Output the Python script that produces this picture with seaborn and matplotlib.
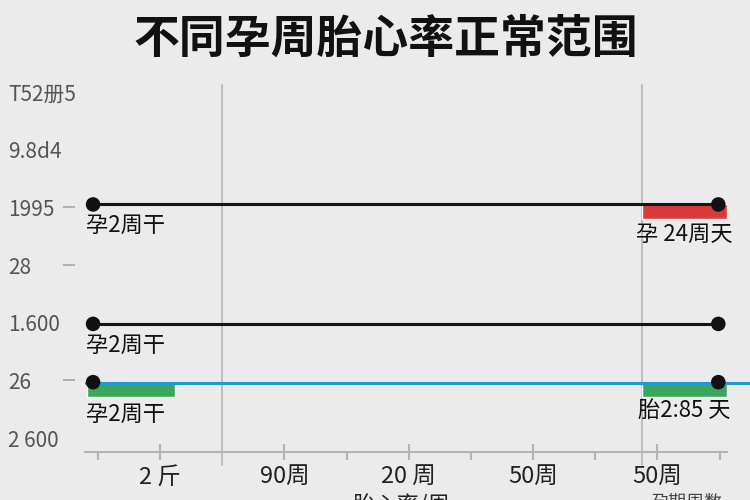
import numpy as np
import pandas as pd
import matplotlib.pyplot as plt
import seaborn as sns

# tick positions / labels (gestational week on x, heart rate on y)
x_ticks = [0, 10, 20, 30, 40]
x_tick_labels = ["2 斤", "90周", "20 周", "50周", "50周"]
x_minor = [-5, 15, 25, 35, 45]
y_ticks = [180, 170, 160, 150, 140, 130, 120]
y_tick_labels = ["T52册5", "9.8d4", "1995", "28", "1.600", "26", "2 600"]

# range lines: start week, end week, heart rate
line_start = [-5.4, -5.4, -6.0]
line_end = [44.9, 45.1, 47.5]
line_rate = [160.5, 139.8, 129.5]
line_color = ["#151515", "#151515", "#1e9ad6"]
dot_rate = [160.5, 139.8, 129.7]

# highlight bars: left week, right week, heart rate (center)
bar_left = [38.8, -5.9, 38.8]
bar_right = [45.6, 1.2, 45.6]
bar_rate = [159.3, 128.3, 128.3]
bar_color = ["#d93a3c", "#3ba55c", "#3ba55c"]

left_labels = ["孕2周干", "孕2周干", "孕2周干"]
left_offset = [-7, -7, -15]
right_labels = ["孕 24周天", "", "胎2:85 天"]
v_lines = [5, 38.8]

sns.set_theme(style="white")
plt.rcParams['font.family'] = ['Noto Sans CJK SC', 'DejaVu Sans']
bg = "#ebebeb"

fig = plt.figure(figsize=(7.5, 5), dpi=100, facecolor=bg)
ax = fig.add_axes([85 / 750, 48 / 500, (727 - 85) / 750, (452 - 85) / 500])
ax.set_facecolor(bg)
ax.set_xlim(-6.05, 45.6)
ax.set_ylim(117.6, 181.2)

for x in v_lines:
    ax.axvline(x, ymin=-0.035, ymax=1, color="#b4b4b4", lw=1.2, clip_on=False, zorder=1)

for l, r, y, c in zip(bar_left, bar_right, bar_rate, bar_color):
    ax.barh(y, r - l, left=l, height=2.5, color=c, zorder=2)

for s, e, y, c in zip(line_start, line_end, line_rate, line_color):
    df = pd.DataFrame({"week": [s, e], "rate": [y, y]})
    sns.lineplot(data=df, x="week", y="rate", color=c, lw=2.2, ax=ax, zorder=3, clip_on=False)

dots = pd.DataFrame({"week": [-5.4] * 3 + [44.9] * 3, "rate": dot_rate * 2})
sns.scatterplot(data=dots, x="week", y="rate", color="#111111", s=110, ax=ax, zorder=4,
                edgecolor="none", clip_on=False)

for y, t, off in zip(dot_rate, left_labels, left_offset):
    ax.annotate(t, (-5.4, y), xytext=(-5, off), textcoords="offset points",
                ha="left", va="top", fontsize=16, color="#111111")
for y, t in zip(dot_rate, right_labels):
    if t:
        ax.annotate(t, (42.2, y), xytext=(0, -13), textcoords="offset points",
                    ha="center", va="top", fontsize=16, color="#111111")

ax.set_xticks(x_ticks)
ax.set_xticklabels(x_tick_labels, fontsize=17, color="#222222")
ax.set_xticks(x_minor, minor=True)
ax.tick_params(axis="x", which="major", bottom=True, direction="inout", length=12, width=1.5,
               color="#b4b4b4", pad=4)
ax.tick_params(axis="x", which="minor", bottom=True, direction="out", length=6, width=1.5,
               color="#b4b4b4")

# left axis: detached short dashes, labels left-aligned at the figure edge
ax.spines["left"].set_position(("outward", 7.2))
ax.set_yticks(y_ticks)
ax.set_yticklabels(y_tick_labels, fontsize=15, color="#555555", ha="left")
ax.tick_params(axis="y", left=True, direction="out", length=8.6, width=1.3, color="#aaaaaa", pad=39.6)
for i, t in enumerate(ax.yaxis.get_major_ticks()):
    if i not in (2, 3, 5):
        t.tick1line.set_visible(False)

ax.set_xlabel("")
ax.set_ylabel("")
for side in ["left", "right", "top"]:
    ax.spines[side].set_visible(False)
ax.spines["bottom"].set_color("#b4b4b4")
ax.spines["bottom"].set_linewidth(1.5)

fig.text(0.515, 0.92, "不同孕周胎心率正常范围", ha="center", va="center",
         fontsize=33, fontweight="bold", color="#111111")
fig.text(0.535, 0.012, "胎心率/周", ha="center", va="top", fontsize=16, color="#222222")
fig.text(0.915, 0.012, "孕期周数", ha="center", va="top", fontsize=13, color="#444444")

fig.savefig("out.png", dpi=100, facecolor=bg)
